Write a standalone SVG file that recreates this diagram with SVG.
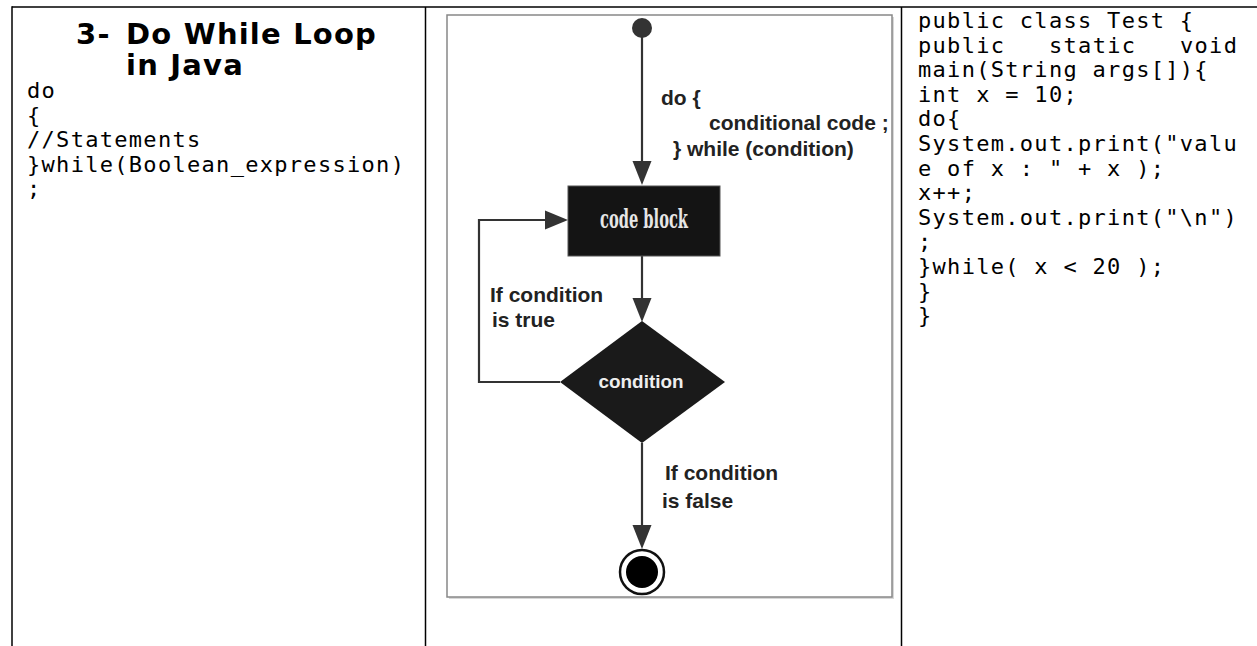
<svg xmlns="http://www.w3.org/2000/svg" width="1257" height="646" viewBox="0 0 1257 646">
  <style>
    .grid { stroke: #000; stroke-width: 1.5; fill: none; }
    .heading { font-family: "DejaVu Sans", Verdana, sans-serif; font-weight: bold; font-size: 29px; letter-spacing: 1.2px; fill: #000; }
    .code { font-family: "DejaVu Sans Mono", "Liberation Mono", monospace; font-size: 22px; letter-spacing: 1.3px; fill: #000; }
    .lbl { font-family: "Liberation Sans", Arial, sans-serif; font-weight: bold; font-size: 21px; fill: #222; }
    .flow { stroke: #333; stroke-width: 2.2; fill: none; }
    .head { fill: #333; }
  </style>

  <rect width="1257" height="646" fill="#fff"/>

  <!-- table rules -->
  <g id="table">
    <line class="grid" x1="12" y1="7" x2="1257" y2="7"/>
    <line class="grid" x1="12" y1="6.25" x2="12" y2="646"/>
    <line class="grid" x1="425.5" y1="7" x2="425.5" y2="646"/>
    <line class="grid" x1="901.5" y1="7" x2="901.5" y2="646"/>
  </g>

  <!-- left column: title and syntax -->
  <g id="syntax">
    <text class="heading" y="44"><tspan x="76">3-</tspan><tspan x="126">Do While Loop</tspan></text>
    <text class="heading" x="126" y="75">in Java</text>
    <text class="code" xml:space="preserve">
      <tspan x="27" y="98">do</tspan>
      <tspan x="27" y="122.6">{</tspan>
      <tspan x="27" y="147.2">//Statements</tspan>
      <tspan x="27" y="171.8">}while(Boolean_expression)</tspan>
      <tspan x="27" y="196.4">;</tspan>
    </text>
  </g>

  <!-- middle column: flowchart -->
  <g id="flowchart-frame">
    <rect x="449" y="17" width="445" height="582" fill="#d8d8d8"/>
    <rect x="447" y="15" width="445" height="582" fill="#fff" stroke="#888" stroke-width="1.5"/>
  </g>

  <g id="connectors">
    <line class="flow" x1="642" y1="36" x2="642" y2="164"/>
    <polygon class="head" points="632.5,161 651.5,161 642,185"/>
    <line class="flow" x1="642" y1="256" x2="642" y2="300"/>
    <polygon class="head" points="632.5,298 651.5,298 642,322"/>
    <polyline class="flow" points="560,382 479,382 479,220 548,220"/>
    <polygon class="head" points="545,210.5 545,229.5 568,220"/>
    <line class="flow" x1="642" y1="443" x2="642" y2="528"/>
    <polygon class="head" points="632.5,525 651.5,525 642,549"/>
  </g>

  <g id="start">
    <circle cx="642" cy="28" r="10" fill="#333"/>
  </g>

  <g id="code-block">
    <rect x="568" y="186" width="152" height="70" fill="#141414" stroke="#555" stroke-width="1"/>
    <text x="644" y="228" text-anchor="middle" font-family="'DejaVu Serif Condensed', 'Liberation Serif', serif" font-weight="bold" font-size="26" fill="#e6e6e6" textLength="88" lengthAdjust="spacingAndGlyphs">code block</text>
  </g>

  <g id="condition">
    <polygon points="642,321 725,382 642,443 560,382" fill="#1a1a1a"/>
    <text x="641" y="388" text-anchor="middle" font-family="'Liberation Sans', Arial, sans-serif" font-weight="bold" font-size="19" fill="#eee" textLength="85" lengthAdjust="spacingAndGlyphs">condition</text>
  </g>

  <g id="end">
    <circle cx="642" cy="572" r="22" fill="#fff" stroke="#111" stroke-width="2.5"/>
    <circle cx="642" cy="572" r="16" fill="#000"/>
  </g>

  <g id="labels">
    <text class="lbl" x="661" y="105">do {</text>
    <text class="lbl" x="709" y="130">conditional code ;</text>
    <text class="lbl" x="673" y="156">} while (condition)</text>
    <text class="lbl" x="490" y="302">If condition</text>
    <text class="lbl" x="492" y="327">is true</text>
    <text class="lbl" x="665" y="480">If condition</text>
    <text class="lbl" x="662" y="508">is false</text>
  </g>

  <!-- right column: example program -->
  <g id="example">
    <text class="code" xml:space="preserve">
      <tspan x="918" y="28">public class Test {</tspan>
      <tspan x="918" y="52.6">public</tspan><tspan x="1049" y="52.6">static</tspan><tspan x="1180" y="52.6">void</tspan>
      <tspan x="918" y="77.2">main(String args[]){</tspan>
      <tspan x="918" y="101.8">int x = 10;</tspan>
      <tspan x="918" y="126.4">do{</tspan>
      <tspan x="918" y="151">System.out.print("valu</tspan>
      <tspan x="918" y="175.6">e of x : " + x );</tspan>
      <tspan x="918" y="200.2">x++;</tspan>
      <tspan x="918" y="224.8">System.out.print("\n")</tspan>
      <tspan x="918" y="249.4">;</tspan>
      <tspan x="918" y="274">}while( x &lt; 20 );</tspan>
      <tspan x="918" y="298.6">}</tspan>
      <tspan x="918" y="323.2">}</tspan>
    </text>
  </g>
</svg>
